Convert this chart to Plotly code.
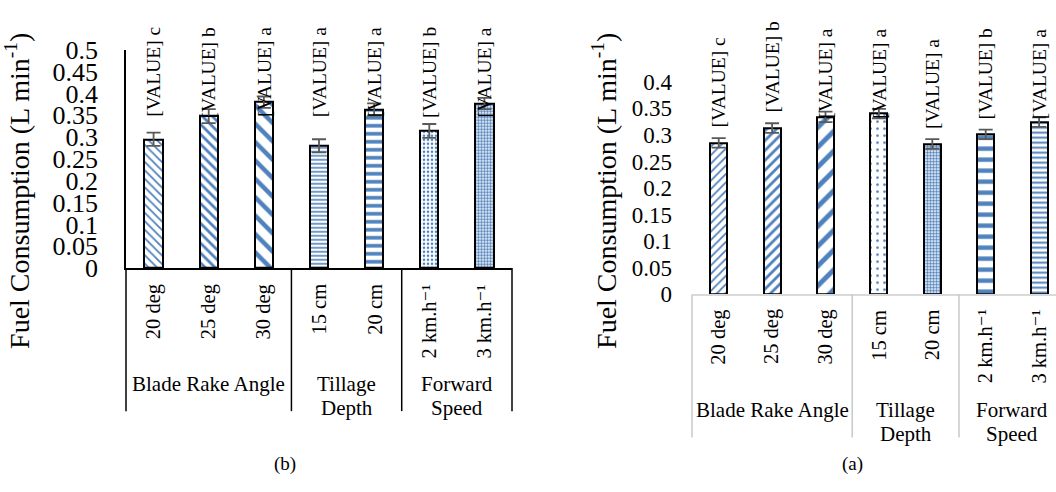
import plotly.graph_objects as go

# ---------------- data ----------------
categories = ["20 deg", "25 deg", "30 deg", "15 cm", "20 cm", "2 km.h\u207b\u00b9", "3 km.h\u207b\u00b9"]
group_names = ["Blade Rake Angle", "Tillage\nDepth", "Forward\nSpeed"]
group_sizes = [3, 2, 2]

b_values = [0.295, 0.348, 0.380, 0.280, 0.363, 0.314, 0.377]
b_errors = [0.015, 0.016, 0.013, 0.015, 0.014, 0.016, 0.013]
b_letters = ["c", "b", "a", "a", "a", "b", "a"]

a_values = [0.285, 0.313, 0.334, 0.340, 0.283, 0.301, 0.324]
a_errors = [0.009, 0.009, 0.010, 0.009, 0.009, 0.009, 0.009]
a_letters = ["c", "b", "a", "a", "a", "b", "a"]

b_ticks = [0, 0.05, 0.1, 0.15, 0.2, 0.25, 0.3, 0.35, 0.4, 0.45, 0.5]
a_ticks = [0, 0.05, 0.1, 0.15, 0.2, 0.25, 0.3, 0.35, 0.4]

y_title = "Fuel Consumption (L min<sup>-1</sup>)"
panel_labels = ["(b)", "(a)"]

# ---------------- style ----------------
W, H = 1056, 492
FONT = "'Liberation Serif', 'Times New Roman', 'DejaVu Serif', serif"
BLUE = "#4f81bd"

b_pat = dict(shape=["\\", "\\", "\\", "-", "-", ".", "."],
             size=[6, 7, 13, 4, 8, 4, 3],
             solidity=[0.3, 0.4, 0.35, 0.4, 0.45, 0.35, 0.55])
a_pat = dict(shape=["/", "/", "/", ".", ".", "-", "-"],
             size=[6, 7, 14, 7, 3, 11, 5],
             solidity=[0.3, 0.4, 0.35, 0.12, 0.55, 0.4, 0.4])

panels = [
    dict(vals=b_values, errs=b_errors, letters=b_letters, pat=b_pat, xa="x", ya="y",
         px_left=126, px_right=512, px_zero=270, scale=464, yrange=[0, 0.5], xrange=[-0.5, 6.5],
         ticks=b_ticks, tickfont=26, line="black", axisline="black", showyline=True,
         lab_off=40, lab_top=13, catshift=15, title_x=18, label_x=285, bw=0.33, standoff=21),
    dict(vals=a_values, errs=a_errors, letters=a_letters, pat=a_pat, xa="x2", ya="y2",
         px_left=692, px_right=1056, px_zero=298, scale=565, yrange=[0, 0.45],
         xrange=[-0.5, -0.5 + (1056 - 692) / 53.4],
         ticks=a_ticks, tickfont=23, line="#c8c8c8", axisline="#d9d9d9", showyline=False,
         lab_off=10, lab_top=15, catshift=14, title_x=605, label_x=852, bw=0.32, standoff=19),
]

LABEL_LEN = 89  # px length of rotated "[VALUE] x" label

fig = go.Figure()
annotations = []
shapes = []
layout_axes = {}

for k, p in enumerate(panels):
    xd = [p["px_left"] / W, p["px_right"] / W]
    y_bottom_paper = 1 - p["px_zero"] / H
    yd = [y_bottom_paper, 1 - (p["px_zero"] - p["yrange"][1] * p["scale"]) / H]
    sfx = "" if k == 0 else "2"
    layout_axes["xaxis" + sfx] = dict(
        domain=xd, range=p["xrange"], showticklabels=False, showline=True,
        linecolor=p["axisline"], linewidth=1.5, ticks="", showgrid=False, zeroline=False,
        anchor=p["ya"], type="category", categoryarray=categories)
    layout_axes["yaxis" + sfx] = dict(
        domain=yd, range=p["yrange"], tickvals=p["ticks"], showline=p["showyline"],
        linecolor="black", linewidth=1.5, ticks="", showgrid=False, zeroline=False,
        anchor=p["xa"], tickfont=dict(family=FONT, size=p["tickfont"], color="black"),
        ticklabelstandoff=p["standoff"])

    fig.add_trace(go.Bar(
        x=categories, y=p["vals"], width=p["bw"], xaxis=p["xa"], yaxis=p["ya"],
        marker=dict(color="white", line=dict(color="black", width=2),
                    pattern=dict(shape=p["pat"]["shape"], size=p["pat"]["size"],
                                 solidity=p["pat"]["solidity"], fgcolor=BLUE,
                                 bgcolor="white", fillmode="replace")),
        error_y=dict(type="data", array=p["errs"], color="#595959", thickness=1.8, width=7),
        showlegend=False, hoverinfo="skip",
    ))
    # value labels: above the error bar, but kept inside the chart area
    for c, v, e, l in zip(categories, p["vals"], p["errs"], p["letters"]):
        bottom_px = p["px_zero"] - (v + e) * p["scale"] - p["lab_off"]
        lab = dict(x=c, xref=p["xa"], text="[VALUE] " + l, textangle=-90, showarrow=False,
                   xanchor="center", borderpad=0,
                   font=dict(family=FONT, size=19.5, color="black"))
        if bottom_px - LABEL_LEN < p["lab_top"]:
            lab.update(yref="paper", y=1 - p["lab_top"] / H, yanchor="top")
        else:
            lab.update(yref=p["ya"], y=v + e + p["lab_off"] / p["scale"], yanchor="bottom")
        annotations.append(lab)
    # category labels
    for c in categories:
        annotations.append(dict(
            x=c, y=0, xref=p["xa"], yref=p["ya"], yshift=-p["catshift"],
            text=c, textangle=-90, showarrow=False, xanchor="center", yanchor="top",
            borderpad=0, font=dict(family=FONT, size=20.5, color="black")))
    # group labels and separators
    x0r, x1r = p["xrange"]

    def to_paper(xv):
        return xd[0] + (xv - x0r) / (x1r - x0r) * (xd[1] - xd[0])

    start = 0
    bounds = [-0.5]
    for g, n in zip(group_names, group_sizes):
        center = start + (n - 1) / 2
        for i, line in enumerate(g.split("\n")):
            annotations.append(dict(
                x=center, y=0, xref=p["xa"], yref=p["ya"], yshift=-(116 + 24 * i),
                text=line, showarrow=False, xanchor="center", yanchor="middle",
                font=dict(family=FONT, size=21, color="black")))
        start += n
        bounds.append(start - 0.5)
    for bx in bounds:
        xp = to_paper(bx)
        if xp > 1.0:
            continue
        shapes.append(dict(type="line", xref="paper", yref="paper", x0=xp, x1=xp,
                           y0=y_bottom_paper, y1=y_bottom_paper - 152 / H,
                           line=dict(color=p["line"], width=1.5)))
    # axis title
    annotations.append(dict(
        x=p["title_x"] / W, y=1 - 188 / H, xref="paper", yref="paper",
        text=y_title, textangle=-90, showarrow=False, xanchor="center", yanchor="middle",
        font=dict(family=FONT, size=28, color="black")))
    # panel label
    annotations.append(dict(
        x=p["label_x"] / W, y=1 - 478 / H, xref="paper", yref="paper",
        text=panel_labels[k], showarrow=False, xanchor="center", yanchor="middle",
        font=dict(family=FONT, size=19, color="black")))

fig.update_layout(
    width=W, height=H, margin=dict(l=0, r=0, t=0, b=0, pad=0),
    paper_bgcolor="white", plot_bgcolor="white",
    font=dict(family=FONT, color="black"),
    annotations=annotations, shapes=shapes, bargap=0,
    **layout_axes,
)

fig.write_html("out.html")
